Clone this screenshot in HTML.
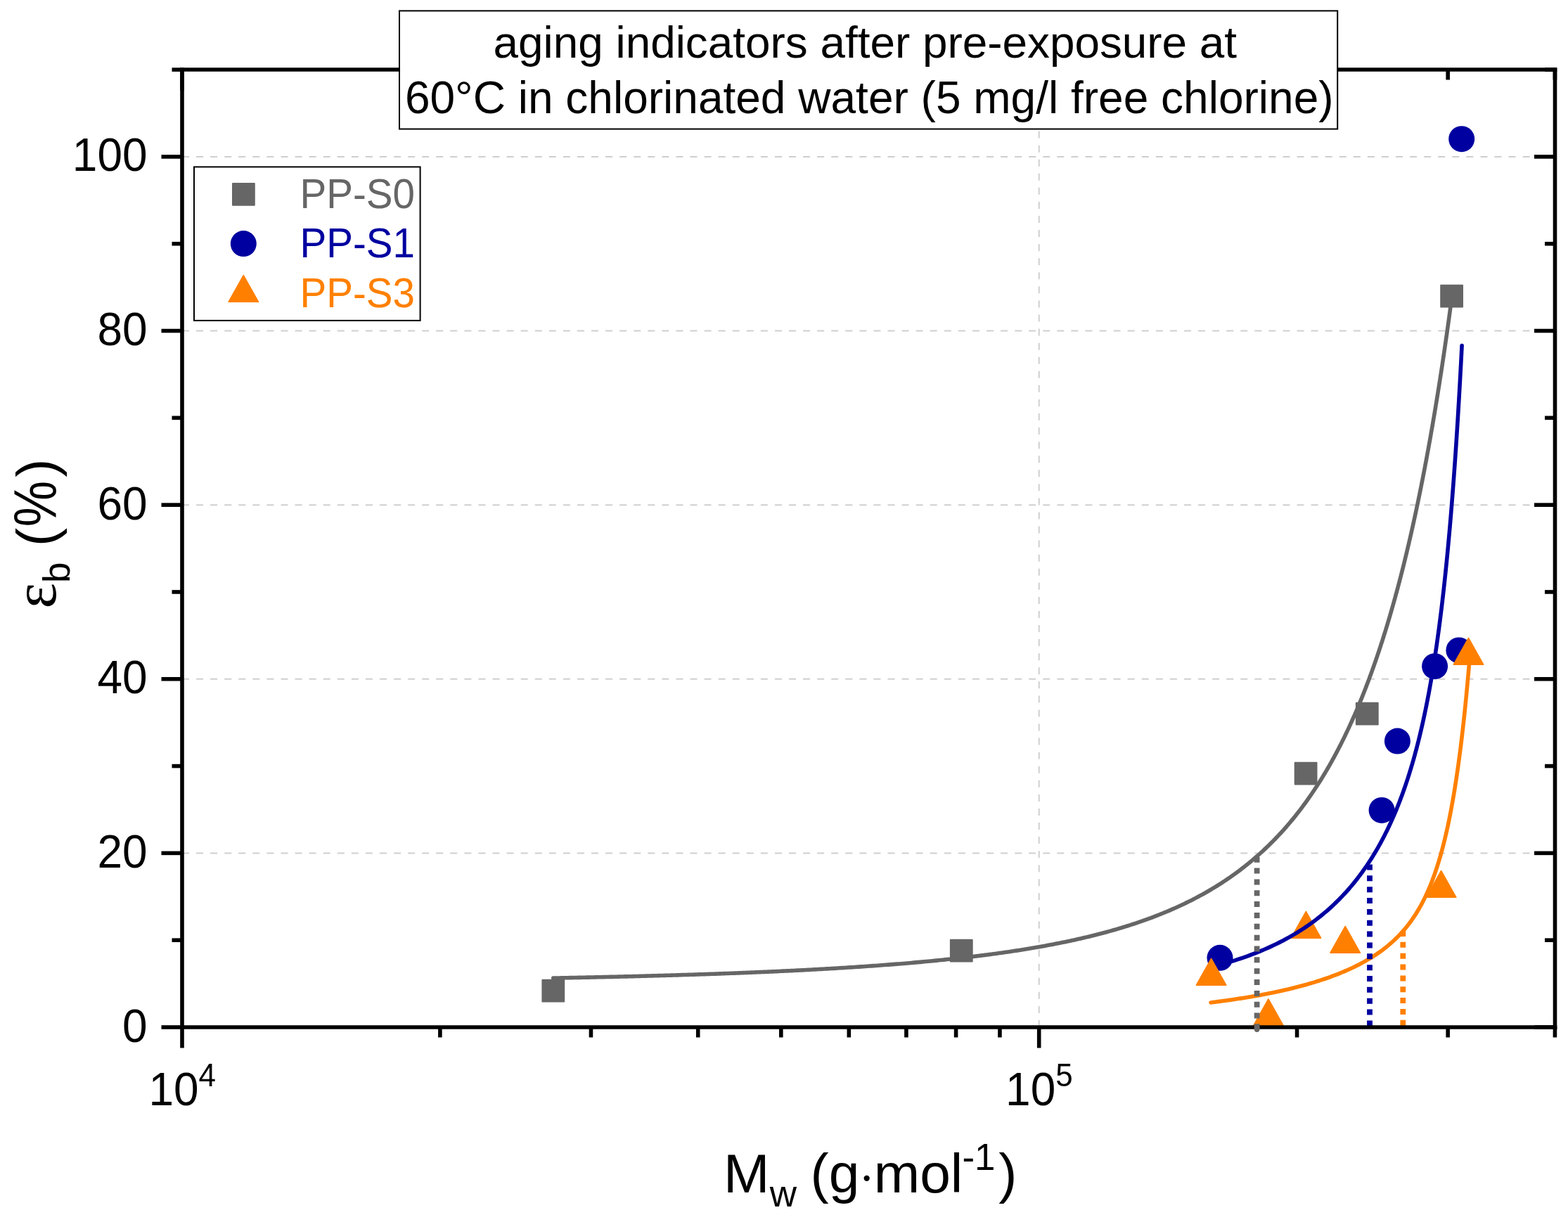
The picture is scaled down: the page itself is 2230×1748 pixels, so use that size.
<!DOCTYPE html>
<html lang="en"><head><meta charset="utf-8"><title>aging indicators after pre-exposure</title>
<style>html,body{margin:0;padding:0;background:#fff}svg{display:block}</style></head>
<body>
<svg width="2230" height="1748" viewBox="0 0 2230 1748" font-family="'Liberation Sans', sans-serif">
<rect width="2230" height="1748" fill="#fff"/>
<g stroke="#cfcfcf" stroke-width="2" stroke-dasharray="10 10.07" fill="none">
<line x1="259.0" y1="1213.38" x2="2211.5" y2="1213.38"/>
<line x1="259.0" y1="965.76" x2="2211.5" y2="965.76"/>
<line x1="259.0" y1="718.14" x2="2211.5" y2="718.14"/>
<line x1="259.0" y1="470.52" x2="2211.5" y2="470.52"/>
<line x1="259.0" y1="222.90" x2="2211.5" y2="222.90"/>
<line x1="1477.70" y1="1461.0" x2="1477.70" y2="99.0"/>
</g>
<g>
<rect x="770.40" y="1392.80" width="32.8" height="32.8" rx="1" fill="#666666"/>
<rect x="1350.90" y="1335.80" width="32.8" height="32.8" rx="1" fill="#666666"/>
<rect x="1840.70" y="1083.80" width="32.8" height="32.8" rx="1" fill="#666666"/>
<rect x="1927.90" y="998.80" width="32.8" height="32.8" rx="1" fill="#666666"/>
<rect x="2048.20" y="404.80" width="32.8" height="32.8" rx="1" fill="#666666"/>
<circle cx="1735.00" cy="1362.30" r="18.5" fill="#0000A0"/>
<circle cx="1965.10" cy="1152.40" r="18.5" fill="#0000A0"/>
<circle cx="1987.40" cy="1054.10" r="18.5" fill="#0000A0"/>
<circle cx="2040.60" cy="947.70" r="18.5" fill="#0000A0"/>
<circle cx="2074.90" cy="924.90" r="18.5" fill="#0000A0"/>
<circle cx="2078.70" cy="197.70" r="18.5" fill="#0000A0"/>
<path d="M1722.60 1363.40L1743.80 1401.10L1701.40 1401.10Z" fill="#FF8000" stroke="#FF8000" stroke-width="1.6" stroke-linejoin="round"/>
<path d="M1803.90 1420.90L1825.10 1458.60L1782.70 1458.60Z" fill="#FF8000" stroke="#FF8000" stroke-width="1.6" stroke-linejoin="round"/>
<path d="M1857.40 1296.40L1878.60 1334.10L1836.20 1334.10Z" fill="#FF8000" stroke="#FF8000" stroke-width="1.6" stroke-linejoin="round"/>
<path d="M1913.20 1317.50L1934.40 1355.20L1892.00 1355.20Z" fill="#FF8000" stroke="#FF8000" stroke-width="1.6" stroke-linejoin="round"/>
<path d="M2049.60 1238.50L2070.80 1276.20L2028.40 1276.20Z" fill="#FF8000" stroke="#FF8000" stroke-width="1.6" stroke-linejoin="round"/>
<path d="M2088.50 907.40L2109.70 945.10L2067.30 945.10Z" fill="#FF8000" stroke="#FF8000" stroke-width="1.6" stroke-linejoin="round"/>
</g>
<path d="M786.80 1391.11L789.80 1391.05L792.80 1390.99L795.80 1390.94L798.80 1390.88L801.80 1390.82L804.80 1390.76L807.80 1390.70L810.80 1390.64L813.79 1390.58L816.79 1390.52L819.79 1390.46L822.79 1390.40L825.79 1390.33L828.79 1390.27L831.79 1390.21L834.79 1390.14L837.79 1390.08L840.79 1390.01L843.79 1389.95L846.79 1389.88L849.79 1389.82L852.79 1389.75L855.79 1389.68L858.78 1389.61L861.78 1389.54L864.78 1389.48L867.78 1389.41L870.78 1389.34L873.78 1389.26L876.78 1389.19L879.78 1389.12L882.78 1389.05L885.78 1388.98L888.78 1388.90L891.78 1388.83L894.77 1388.75L897.77 1388.68L900.77 1388.60L903.77 1388.52L906.77 1388.45L909.77 1388.37L912.77 1388.29L915.77 1388.21L918.77 1388.13L921.76 1388.05L924.76 1387.97L927.76 1387.89L930.76 1387.80L933.76 1387.72L936.76 1387.64L939.76 1387.55L942.76 1387.47L945.76 1387.38L948.75 1387.29L951.75 1387.21L954.75 1387.12L957.75 1387.03L960.75 1386.94L963.75 1386.85L966.75 1386.76L969.75 1386.67L972.74 1386.57L975.74 1386.48L978.74 1386.39L981.74 1386.29L984.74 1386.19L987.74 1386.10L990.73 1386.00L993.73 1385.90L996.73 1385.80L999.73 1385.70L1002.73 1385.60L1005.73 1385.50L1008.72 1385.40L1011.72 1385.29L1014.72 1385.19L1017.72 1385.08L1020.72 1384.98L1023.72 1384.87L1026.71 1384.76L1029.71 1384.65L1032.71 1384.54L1035.71 1384.43L1038.70 1384.32L1041.70 1384.21L1044.70 1384.09L1047.70 1383.98L1050.70 1383.86L1053.69 1383.74L1056.69 1383.63L1059.69 1383.51L1062.69 1383.39L1065.68 1383.26L1068.68 1383.14L1071.68 1383.02L1074.68 1382.89L1077.67 1382.77L1080.67 1382.64L1083.67 1382.51L1086.67 1382.38L1089.66 1382.25L1092.66 1382.12L1095.66 1381.99L1098.65 1381.85L1101.65 1381.72L1104.65 1381.58L1107.64 1381.44L1110.64 1381.30L1113.64 1381.16L1116.63 1381.02L1119.63 1380.88L1122.63 1380.74L1125.62 1380.59L1128.62 1380.44L1131.62 1380.29L1134.61 1380.14L1137.61 1379.99L1140.61 1379.84L1143.60 1379.69L1146.60 1379.53L1149.59 1379.37L1152.59 1379.21L1155.59 1379.05L1158.58 1378.89L1161.58 1378.73L1164.57 1378.56L1167.57 1378.40L1170.56 1378.23L1173.56 1378.06L1176.55 1377.89L1179.55 1377.72L1182.54 1377.54L1185.54 1377.36L1188.53 1377.19L1191.53 1377.01L1194.52 1376.83L1197.52 1376.64L1200.51 1376.46L1203.50 1376.27L1206.50 1376.08L1209.49 1375.89L1212.49 1375.70L1215.48 1375.50L1218.47 1375.31L1221.47 1375.11L1224.46 1374.91L1227.45 1374.70L1230.45 1374.50L1233.44 1374.29L1236.43 1374.08L1239.42 1373.87L1242.42 1373.66L1245.41 1373.44L1248.40 1373.23L1251.39 1373.01L1254.38 1372.78L1257.38 1372.56L1260.37 1372.33L1263.36 1372.10L1266.35 1371.87L1269.34 1371.64L1272.33 1371.40L1275.32 1371.16L1278.31 1370.92L1281.30 1370.68L1284.29 1370.43L1287.28 1370.18L1290.27 1369.93L1293.26 1369.68L1296.25 1369.42L1299.24 1369.16L1302.23 1368.90L1305.21 1368.63L1308.20 1368.36L1311.19 1368.09L1314.18 1367.82L1317.17 1367.54L1320.15 1367.26L1323.14 1366.98L1326.12 1366.69L1329.11 1366.40L1332.10 1366.11L1335.08 1365.81L1338.07 1365.51L1341.05 1365.21L1344.04 1364.90L1347.02 1364.59L1350.00 1364.28L1352.99 1363.96L1355.97 1363.64L1358.95 1363.32L1361.93 1362.99L1364.92 1362.66L1367.90 1362.33L1370.88 1361.99L1373.86 1361.65L1376.84 1361.30L1379.82 1360.95L1382.80 1360.60L1385.78 1360.24L1388.75 1359.88L1391.73 1359.51L1394.71 1359.14L1397.68 1358.76L1400.66 1358.38L1403.64 1358.00L1406.61 1357.61L1409.58 1357.22L1412.56 1356.82L1415.53 1356.42L1418.50 1356.01L1421.47 1355.60L1424.45 1355.18L1427.42 1354.76L1430.39 1354.33L1433.35 1353.90L1436.32 1353.46L1439.29 1353.02L1442.26 1352.57L1445.22 1352.12L1448.19 1351.66L1451.15 1351.20L1454.11 1350.73L1457.07 1350.25L1460.04 1349.77L1463.00 1349.28L1465.96 1348.79L1468.91 1348.29L1471.87 1347.79L1474.83 1347.27L1477.78 1346.76L1480.74 1346.23L1483.69 1345.70L1486.64 1345.16L1489.59 1344.62L1492.54 1344.07L1495.49 1343.51L1498.43 1342.94L1501.38 1342.37L1504.32 1341.79L1507.26 1341.21L1510.20 1340.61L1513.14 1340.01L1516.08 1339.40L1519.02 1338.79L1521.95 1338.16L1524.88 1337.53L1527.81 1336.89L1530.74 1336.24L1533.67 1335.58L1536.60 1334.92L1539.52 1334.24L1542.44 1333.56L1545.36 1332.87L1548.28 1332.17L1551.19 1331.46L1554.10 1330.74L1557.01 1330.01L1559.92 1329.28L1562.83 1328.53L1565.73 1327.77L1568.63 1327.01L1571.53 1326.23L1574.42 1325.44L1577.32 1324.65L1580.21 1323.84L1583.09 1323.02L1585.98 1322.20L1588.86 1321.36L1591.73 1320.51L1594.61 1319.65L1597.48 1318.78L1600.35 1317.90L1603.21 1317.00L1606.07 1316.10L1608.93 1315.18L1611.78 1314.25L1614.63 1313.31L1617.47 1312.35L1620.31 1311.39L1623.15 1310.41L1625.98 1309.42L1628.81 1308.41L1631.63 1307.40L1634.45 1306.37L1637.26 1305.33L1640.07 1304.27L1642.87 1303.20L1645.67 1302.12L1648.46 1301.02L1651.25 1299.91L1654.03 1298.78L1656.80 1297.64L1659.57 1296.49L1662.34 1295.32L1665.09 1294.14L1667.84 1292.94L1670.59 1291.73L1673.33 1290.50L1676.06 1289.26L1678.78 1288.00L1681.50 1286.73L1684.21 1285.44L1686.91 1284.14L1689.60 1282.82L1692.29 1281.48L1694.97 1280.13L1697.64 1278.76L1700.30 1277.38L1702.95 1275.98L1705.60 1274.57L1708.23 1273.13L1710.86 1271.69L1713.48 1270.22L1716.09 1268.74L1718.69 1267.24L1721.28 1265.73L1723.86 1264.20L1726.43 1262.65L1728.99 1261.08L1731.53 1259.50L1734.07 1257.90L1736.60 1256.29L1739.12 1254.65L1741.62 1253.00L1744.12 1251.34L1746.60 1249.65L1749.07 1247.95L1751.53 1246.24L1753.98 1244.50L1756.42 1242.75L1758.84 1240.98L1761.25 1239.20L1763.65 1237.40L1766.04 1235.58L1768.41 1233.75L1770.77 1231.90L1773.12 1230.03L1775.45 1228.14L1777.78 1226.24L1780.08 1224.33L1782.38 1222.39L1784.66 1220.45L1786.93 1218.48L1789.18 1216.50L1791.42 1214.51L1793.65 1212.49L1795.86 1210.47L1798.06 1208.42L1800.24 1206.37L1802.41 1204.29L1804.56 1202.21L1806.70 1200.11L1808.83 1197.99L1810.94 1195.86L1813.04 1193.71L1815.12 1191.55L1817.19 1189.38L1819.24 1187.19L1821.28 1184.99L1823.30 1182.78L1825.31 1180.55L1827.31 1178.31L1829.29 1176.05L1831.25 1173.79L1833.20 1171.51L1835.14 1169.22L1837.06 1166.91L1838.97 1164.60L1840.86 1162.27L1842.74 1159.93L1844.60 1157.58L1846.45 1155.22L1848.29 1152.84L1850.11 1150.46L1851.91 1148.06L1853.71 1145.66L1855.48 1143.24L1857.25 1140.81L1859.00 1138.38L1860.73 1135.93L1862.46 1133.48L1864.16 1131.01L1865.86 1128.53L1867.54 1126.05L1869.21 1123.56L1870.86 1121.05L1872.50 1118.54L1874.13 1116.02L1875.75 1113.49L1877.35 1110.96L1878.94 1108.41L1880.51 1105.86L1882.08 1103.30L1883.63 1100.73L1885.16 1098.15L1886.69 1095.57L1888.20 1092.98L1889.70 1090.38L1891.19 1087.78L1892.67 1085.17L1894.13 1082.55L1895.58 1079.92L1897.03 1077.29L1898.46 1074.65L1899.87 1072.01L1901.28 1069.36L1902.68 1066.71L1904.06 1064.04L1905.43 1061.38L1906.79 1058.70L1908.15 1056.02L1909.49 1053.34L1910.82 1050.65L1912.14 1047.96L1913.44 1045.26L1914.74 1042.55L1916.03 1039.84L1917.31 1037.13L1918.58 1034.41L1919.84 1031.69L1921.08 1028.96L1922.32 1026.23L1923.55 1023.49L1924.77 1020.75L1925.98 1018.01L1927.18 1015.26L1928.37 1012.50L1929.56 1009.75L1930.73 1006.98L1931.89 1004.22L1933.05 1001.45L1934.20 998.68L1935.34 995.90L1936.47 993.12L1937.59 990.34L1938.70 987.56L1939.80 984.77L1940.90 981.97L1941.99 979.18L1943.07 976.38L1944.14 973.58L1945.21 970.77L1946.26 967.97L1947.31 965.16L1948.36 962.34L1949.39 959.53L1950.42 956.71L1951.44 953.89L1952.45 951.06L1953.45 948.24L1954.45 945.41L1955.44 942.57L1956.42 939.74L1957.40 936.90L1958.37 934.06L1959.34 931.22L1960.29 928.38L1961.24 925.53L1962.19 922.69L1963.12 919.84L1964.05 916.99L1964.98 914.13L1965.90 911.28L1966.81 908.42L1967.71 905.56L1968.61 902.70L1969.51 899.83L1970.40 896.97L1971.28 894.10L1972.15 891.23L1973.02 888.36L1973.89 885.49L1974.75 882.61L1975.60 879.74L1976.45 876.86L1977.29 873.98L1978.13 871.10L1978.96 868.22L1979.79 865.33L1980.61 862.45L1981.43 859.56L1982.24 856.67L1983.04 853.78L1983.84 850.89L1984.64 848.00L1985.43 845.10L1986.22 842.21L1987.00 839.31L1987.78 836.41L1988.55 833.52L1989.31 830.62L1990.08 827.71L1990.84 824.81L1991.59 821.91L1992.34 819.00L1993.08 816.10L1993.82 813.19L1994.56 810.28L1995.29 807.37L1996.02 804.46L1996.74 801.55L1997.46 798.64L1998.17 795.72L1998.88 792.81L1999.59 789.89L2000.29 786.98L2000.99 784.06L2001.68 781.14L2002.37 778.22L2003.06 775.30L2003.74 772.38L2004.42 769.46L2005.10 766.53L2005.77 763.61L2006.44 760.68L2007.10 757.76L2007.76 754.83L2008.42 751.91L2009.07 748.98L2009.72 746.05L2010.37 743.12L2011.01 740.19L2011.65 737.26L2012.28 734.33L2012.92 731.39L2013.54 728.46L2014.17 725.53L2014.79 722.59L2015.41 719.66L2016.03 716.72L2016.64 713.78L2017.25 710.85L2017.86 707.91L2018.46 704.97L2019.06 702.03L2019.66 699.09L2020.25 696.15L2020.84 693.21L2021.43 690.27L2022.01 687.32L2022.60 684.38L2023.18 681.44L2023.75 678.49L2024.33 675.55L2024.90 672.60L2025.46 669.66L2026.03 666.71L2026.59 663.76L2027.15 660.82L2027.71 657.87L2028.26 654.92L2028.81 651.97L2029.36 649.02L2029.91 646.07L2030.45 643.12L2030.99 640.17L2031.53 637.22L2032.06 634.27L2032.60 631.31L2033.13 628.36L2033.66 625.41L2034.18 622.46L2034.71 619.50L2035.23 616.55L2035.75 613.59L2036.26 610.64L2036.78 607.68L2037.29 604.72L2037.80 601.77L2038.30 598.81L2038.81 595.85L2039.31 592.90L2039.81 589.94L2040.31 586.98L2040.80 584.02L2041.29 581.06L2041.79 578.10L2042.27 575.14L2042.76 572.18L2043.25 569.22L2043.73 566.26L2044.21 563.30L2044.69 560.34L2045.16 557.38L2045.64 554.41L2046.11 551.45L2046.58 548.49L2047.05 545.52L2047.51 542.56L2047.98 539.60L2048.44 536.63L2048.90 533.67L2049.36 530.70L2049.81 527.74L2050.27 524.77L2050.72 521.81L2051.17 518.84L2051.62 515.88L2052.07 512.91L2052.51 509.94L2052.95 506.97L2053.40 504.01L2053.83 501.04L2054.27 498.07L2054.71 495.10L2055.14 492.14L2055.57 489.17L2056.01 486.20L2056.43 483.23L2056.86 480.26L2057.29 477.29L2057.71 474.32L2058.13 471.35L2058.55 468.38L2058.97 465.41L2059.39 462.44L2059.80 459.47L2060.22 456.49L2060.63 453.52L2061.04 450.55L2061.45 447.58L2061.86 444.61L2062.26 441.64L2062.67 438.66L2063.07 435.69L2063.47 432.72L2063.87 429.74L2064.27 426.77L2064.37 426.02" fill="none" stroke="#666666" stroke-width="5.6" stroke-linecap="round" stroke-linejoin="round"/>
<path d="M1735.00 1372.28L1737.89 1371.47L1740.77 1370.65L1743.65 1369.81L1746.53 1368.95L1749.40 1368.09L1752.27 1367.20L1755.13 1366.30L1757.99 1365.39L1760.84 1364.45L1763.69 1363.51L1766.53 1362.54L1769.36 1361.56L1772.19 1360.56L1775.01 1359.54L1777.83 1358.50L1780.63 1357.45L1783.44 1356.37L1786.23 1355.28L1789.02 1354.17L1791.80 1353.04L1794.57 1351.89L1797.33 1350.72L1800.08 1349.53L1802.83 1348.32L1805.56 1347.09L1808.29 1345.84L1811.01 1344.57L1813.72 1343.28L1816.41 1341.96L1819.10 1340.63L1821.77 1339.27L1824.44 1337.89L1827.09 1336.49L1829.73 1335.07L1832.36 1333.62L1834.98 1332.15L1837.58 1330.66L1840.17 1329.15L1842.75 1327.61L1845.31 1326.05L1847.86 1324.47L1850.39 1322.86L1852.91 1321.23L1855.41 1319.58L1857.90 1317.91L1860.38 1316.21L1862.83 1314.49L1865.27 1312.74L1867.70 1310.97L1870.11 1309.18L1872.50 1307.37L1874.87 1305.54L1877.22 1303.68L1879.56 1301.80L1881.88 1299.89L1884.18 1297.97L1886.46 1296.02L1888.72 1294.05L1890.97 1292.06L1893.19 1290.05L1895.40 1288.01L1897.58 1285.96L1899.75 1283.88L1901.89 1281.78L1904.02 1279.67L1906.12 1277.53L1908.21 1275.37L1910.27 1273.19L1912.32 1271.00L1914.34 1268.78L1916.34 1266.55L1918.32 1264.30L1920.29 1262.03L1922.23 1259.74L1924.14 1257.43L1926.04 1255.11L1927.92 1252.77L1929.78 1250.41L1931.61 1248.04L1933.43 1245.65L1935.22 1243.25L1937.00 1240.83L1938.75 1238.40L1940.48 1235.95L1942.20 1233.48L1943.89 1231.01L1945.56 1228.52L1947.21 1226.01L1948.84 1223.49L1950.46 1220.96L1952.05 1218.42L1953.62 1215.87L1955.17 1213.30L1956.71 1210.72L1958.22 1208.13L1959.72 1205.53L1961.19 1202.92L1962.65 1200.30L1964.09 1197.66L1965.51 1195.02L1966.91 1192.37L1968.29 1189.71L1969.66 1187.04L1971.01 1184.36L1972.34 1181.67L1973.65 1178.97L1974.95 1176.26L1976.23 1173.55L1977.49 1170.83L1978.74 1168.10L1979.97 1165.36L1981.18 1162.62L1982.38 1159.87L1983.56 1157.11L1984.72 1154.35L1985.87 1151.58L1987.01 1148.80L1988.13 1146.02L1989.23 1143.23L1990.32 1140.43L1991.40 1137.63L1992.46 1134.82L1993.51 1132.01L1994.54 1129.20L1995.56 1126.38L1996.56 1123.55L1997.56 1120.72L1998.54 1117.88L1999.50 1115.04L2000.46 1112.20L2001.40 1109.35L2002.33 1106.50L2003.24 1103.64L2004.15 1100.78L2005.04 1097.92L2005.92 1095.05L2006.79 1092.18L2007.65 1089.30L2008.49 1086.42L2009.33 1083.54L2010.16 1080.66L2010.97 1077.77L2011.77 1074.88L2012.57 1071.99L2013.35 1069.09L2014.12 1066.19L2014.89 1063.29L2015.64 1060.39L2016.38 1057.48L2017.12 1054.57L2017.85 1051.66L2018.56 1048.75L2019.27 1045.83L2019.97 1042.92L2020.66 1040.00L2021.34 1037.08L2022.01 1034.15L2022.68 1031.23L2023.33 1028.30L2023.98 1025.37L2024.62 1022.44L2025.26 1019.51L2025.88 1016.57L2026.50 1013.64L2027.11 1010.70L2027.71 1007.76L2028.31 1004.82L2028.90 1001.88L2029.48 998.94L2030.06 995.99L2030.63 993.05L2031.19 990.10L2031.75 987.15L2032.29 984.20L2032.84 981.25L2033.38 978.30L2033.91 975.35L2034.43 972.39L2034.95 969.44L2035.46 966.48L2035.97 963.53L2036.47 960.57L2036.97 957.61L2037.46 954.65L2037.95 951.69L2038.43 948.73L2038.91 945.77L2039.38 942.81L2039.84 939.84L2040.30 936.88L2040.76 933.91L2041.21 930.95L2041.66 927.98L2042.10 925.01L2042.53 922.04L2042.97 919.08L2043.40 916.11L2043.82 913.14L2044.24 910.17L2044.66 907.20L2045.07 904.22L2045.47 901.25L2045.88 898.28L2046.28 895.31L2046.67 892.33L2047.06 889.36L2047.45 886.38L2047.84 883.41L2048.22 880.43L2048.59 877.45L2048.97 874.48L2049.34 871.50L2049.70 868.52L2050.07 865.55L2050.43 862.57L2050.78 859.59L2051.13 856.61L2051.48 853.63L2051.83 850.65L2052.18 847.67L2052.52 844.69L2052.85 841.71L2053.19 838.73L2053.52 835.75L2053.85 832.76L2054.17 829.78L2054.50 826.80L2054.82 823.82L2055.13 820.83L2055.45 817.85L2055.76 814.87L2056.07 811.88L2056.38 808.90L2056.68 805.91L2056.98 802.93L2057.28 799.94L2057.58 796.96L2057.87 793.97L2058.17 790.99L2058.46 788.00L2058.74 785.01L2059.03 782.03L2059.31 779.04L2059.59 776.05L2059.87 773.07L2060.15 770.08L2060.42 767.09L2060.69 764.10L2060.96 761.12L2061.23 758.13L2061.49 755.14L2061.76 752.15L2062.02 749.16L2062.28 746.17L2062.54 743.19L2062.79 740.20L2063.05 737.21L2063.30 734.22L2063.55 731.23L2063.80 728.24L2064.04 725.25L2064.29 722.26L2064.53 719.27L2064.77 716.28L2065.01 713.29L2065.25 710.30L2065.49 707.31L2065.72 704.32L2065.95 701.32L2066.18 698.33L2066.41 695.34L2066.64 692.35L2066.87 689.36L2067.09 686.37L2067.32 683.38L2067.54 680.38L2067.76 677.39L2067.98 674.40L2068.19 671.41L2068.41 668.42L2068.63 665.42L2068.84 662.43L2069.05 659.44L2069.26 656.45L2069.47 653.45L2069.68 650.46L2069.88 647.47L2070.09 644.48L2070.29 641.48L2070.50 638.49L2070.70 635.50L2070.90 632.50L2071.10 629.51L2071.29 626.52L2071.49 623.52L2071.68 620.53L2071.88 617.53L2072.07 614.54L2072.26 611.55L2072.45 608.55L2072.64 605.56L2072.83 602.57L2073.02 599.57L2073.20 596.58L2073.39 593.58L2073.57 590.59L2073.75 587.59L2073.93 584.60L2074.11 581.60L2074.29 578.61L2074.47 575.62L2074.65 572.62L2074.83 569.63L2075.00 566.63L2075.18 563.64L2075.35 560.64L2075.52 557.65L2075.69 554.65L2075.86 551.66L2076.03 548.66L2076.20 545.66L2076.37 542.67L2076.54 539.67L2076.70 536.68L2076.87 533.68L2077.03 530.69L2077.19 527.69L2077.36 524.70L2077.52 521.70L2077.68 518.71L2077.84 515.71L2078.00 512.71L2078.15 509.72L2078.31 506.72L2078.47 503.73L2078.62 500.73L2078.78 497.73L2078.93 494.74L2079.09 491.74L2079.10 491.51" fill="none" stroke="#0000A0" stroke-width="5.6" stroke-linecap="round" stroke-linejoin="round"/>
<path d="M1722.00 1425.91L1724.98 1425.54L1727.95 1425.16L1730.93 1424.78L1733.90 1424.39L1736.88 1424.00L1739.85 1423.60L1742.82 1423.19L1745.79 1422.78L1748.76 1422.36L1751.73 1421.93L1754.70 1421.49L1757.67 1421.05L1760.64 1420.60L1763.60 1420.14L1766.56 1419.68L1769.53 1419.21L1772.49 1418.73L1775.45 1418.24L1778.41 1417.74L1781.36 1417.24L1784.32 1416.72L1787.27 1416.20L1790.23 1415.67L1793.18 1415.13L1796.13 1414.57L1799.07 1414.01L1802.02 1413.44L1804.96 1412.86L1807.90 1412.27L1810.84 1411.67L1813.78 1411.06L1816.71 1410.44L1819.65 1409.81L1822.58 1409.16L1825.50 1408.50L1828.43 1407.84L1831.35 1407.16L1834.27 1406.46L1837.18 1405.76L1840.10 1405.04L1843.01 1404.31L1845.91 1403.56L1848.82 1402.80L1851.71 1402.03L1854.61 1401.24L1857.50 1400.44L1860.39 1399.62L1863.27 1398.79L1866.14 1397.94L1869.02 1397.07L1871.88 1396.19L1874.75 1395.29L1877.60 1394.38L1880.45 1393.44L1883.30 1392.49L1886.14 1391.52L1888.97 1390.53L1891.79 1389.52L1894.61 1388.49L1897.42 1387.44L1900.23 1386.37L1903.02 1385.28L1905.80 1384.16L1908.58 1383.02L1911.35 1381.86L1914.10 1380.68L1916.85 1379.47L1919.58 1378.24L1922.31 1376.98L1925.02 1375.70L1927.72 1374.39L1930.40 1373.05L1933.07 1371.68L1935.73 1370.29L1938.37 1368.87L1941.00 1367.42L1943.61 1365.93L1946.20 1364.42L1948.77 1362.88L1951.32 1361.30L1953.85 1359.69L1956.36 1358.05L1958.85 1356.37L1961.32 1354.66L1963.76 1352.92L1966.18 1351.14L1968.57 1349.33L1970.93 1347.48L1973.26 1345.60L1975.57 1343.68L1977.85 1341.73L1980.09 1339.74L1982.31 1337.71L1984.49 1335.65L1986.64 1333.56L1988.75 1331.43L1990.83 1329.27L1992.87 1327.07L1994.88 1324.84L1996.85 1322.58L1998.79 1320.29L2000.69 1317.97L2002.55 1315.62L2004.37 1313.23L2006.16 1310.82L2007.91 1308.39L2009.62 1305.92L2011.30 1303.44L2012.94 1300.92L2014.54 1298.39L2016.11 1295.83L2017.64 1293.25L2019.14 1290.65L2020.60 1288.03L2022.03 1285.40L2023.43 1282.74L2024.80 1280.07L2026.13 1277.38L2027.44 1274.68L2028.71 1271.97L2029.95 1269.24L2031.17 1266.49L2032.36 1263.74L2033.52 1260.97L2034.66 1258.20L2035.77 1255.41L2036.85 1252.61L2037.91 1249.81L2038.95 1246.99L2039.97 1244.17L2040.96 1241.34L2041.93 1238.50L2042.89 1235.66L2043.82 1232.81L2044.73 1229.95L2045.62 1227.08L2046.50 1224.21L2047.36 1221.34L2048.20 1218.46L2049.02 1215.57L2049.83 1212.69L2050.62 1209.79L2051.40 1206.89L2052.16 1203.99L2052.91 1201.09L2053.64 1198.18L2054.36 1195.27L2055.07 1192.35L2055.76 1189.43L2056.45 1186.51L2057.12 1183.59L2057.78 1180.66L2058.42 1177.73L2059.06 1174.80L2059.69 1171.87L2060.30 1168.93L2060.91 1165.99L2061.50 1163.05L2062.09 1160.11L2062.66 1157.16L2063.23 1154.22L2063.79 1151.27L2064.34 1148.32L2064.88 1145.37L2065.42 1142.42L2065.94 1139.47L2066.46 1136.51L2066.97 1133.55L2067.47 1130.60L2067.97 1127.64L2068.46 1124.68L2068.94 1121.72L2069.41 1118.75L2069.88 1115.79L2070.35 1112.83L2070.80 1109.86L2071.25 1106.90L2071.70 1103.93L2072.14 1100.96L2072.57 1097.99L2073.00 1095.02L2073.42 1092.05L2073.84 1089.08L2074.25 1086.11L2074.65 1083.14L2075.05 1080.17L2075.45 1077.19L2075.84 1074.22L2076.23 1071.24L2076.61 1068.27L2076.99 1065.29L2077.37 1062.31L2077.74 1059.34L2078.10 1056.36L2078.46 1053.38L2078.82 1050.40L2079.18 1047.42L2079.53 1044.44L2079.87 1041.46L2080.21 1038.48L2080.55 1035.50L2080.89 1032.52L2081.22 1029.54L2081.55 1026.56L2081.87 1023.58L2082.19 1020.59L2082.51 1017.61L2082.83 1014.63L2083.14 1011.64L2083.45 1008.66L2083.75 1005.68L2084.06 1002.69L2084.36 999.71L2084.66 996.72L2084.95 993.73L2085.24 990.75L2085.53 987.76L2085.82 984.78L2086.10 981.79L2086.38 978.80L2086.66 975.82L2086.94 972.83L2087.21 969.84L2087.48 966.85L2087.75 963.87L2088.02 960.88L2088.28 957.89L2088.54 954.90L2088.80 951.91L2089.06 948.92L2089.32 945.93L2089.42 944.68" fill="none" stroke="#FF8000" stroke-width="5.6" stroke-linecap="round" stroke-linejoin="round"/>
<line x1="1787.6" y1="1218.7" x2="1787.6" y2="1466" stroke="#666666" stroke-width="7.8" stroke-dasharray="8 7.85" stroke-dashoffset="0"/>
<line x1="1948" y1="1229.5" x2="1948" y2="1461" stroke="#0000A0" stroke-width="7.8" stroke-dasharray="8 7.85" stroke-dashoffset="0"/>
<line x1="1995.3" y1="1324" x2="1995.3" y2="1461" stroke="#FF8000" stroke-width="7.8" stroke-dasharray="8 7.85" stroke-dashoffset="0"/>
<g stroke="#000" stroke-width="5.6" fill="none" stroke-linecap="butt">
<line x1="256.2" y1="99.0" x2="2214.3" y2="99.0"/>
<line x1="256.2" y1="1461.0" x2="2214.3" y2="1461.0"/>
<line x1="259.0" y1="96.2" x2="259.0" y2="1463.8"/>
<line x1="2211.5" y1="96.2" x2="2211.5" y2="1463.8"/>
<line x1="229.50" y1="1461.00" x2="259.0" y2="1461.00"/>
<line x1="2182.00" y1="1461.00" x2="2211.5" y2="1461.00"/>
<line x1="244.50" y1="1337.19" x2="259.0" y2="1337.19"/>
<line x1="2197.00" y1="1337.19" x2="2211.5" y2="1337.19"/>
<line x1="229.50" y1="1213.38" x2="259.0" y2="1213.38"/>
<line x1="2182.00" y1="1213.38" x2="2211.5" y2="1213.38"/>
<line x1="244.50" y1="1089.57" x2="259.0" y2="1089.57"/>
<line x1="2197.00" y1="1089.57" x2="2211.5" y2="1089.57"/>
<line x1="229.50" y1="965.76" x2="259.0" y2="965.76"/>
<line x1="2182.00" y1="965.76" x2="2211.5" y2="965.76"/>
<line x1="244.50" y1="841.95" x2="259.0" y2="841.95"/>
<line x1="2197.00" y1="841.95" x2="2211.5" y2="841.95"/>
<line x1="229.50" y1="718.14" x2="259.0" y2="718.14"/>
<line x1="2182.00" y1="718.14" x2="2211.5" y2="718.14"/>
<line x1="244.50" y1="594.33" x2="259.0" y2="594.33"/>
<line x1="2197.00" y1="594.33" x2="2211.5" y2="594.33"/>
<line x1="229.50" y1="470.52" x2="259.0" y2="470.52"/>
<line x1="2182.00" y1="470.52" x2="2211.5" y2="470.52"/>
<line x1="244.50" y1="346.71" x2="259.0" y2="346.71"/>
<line x1="2197.00" y1="346.71" x2="2211.5" y2="346.71"/>
<line x1="229.50" y1="222.90" x2="259.0" y2="222.90"/>
<line x1="2182.00" y1="222.90" x2="2211.5" y2="222.90"/>
<line x1="244.50" y1="99.09" x2="259.0" y2="99.09"/>
<line x1="2197.00" y1="99.09" x2="2211.5" y2="99.09"/>
<line x1="259.00" y1="1461.0" x2="259.00" y2="1490.50"/>
<line x1="259.00" y1="99.0" x2="259.00" y2="128.50"/>
<line x1="1477.70" y1="1461.0" x2="1477.70" y2="1490.50"/>
<line x1="1477.70" y1="99.0" x2="1477.70" y2="128.50"/>
<line x1="625.87" y1="1461.0" x2="625.87" y2="1475.50"/>
<line x1="625.87" y1="99.0" x2="625.87" y2="113.50"/>
<line x1="840.47" y1="1461.0" x2="840.47" y2="1475.50"/>
<line x1="840.47" y1="99.0" x2="840.47" y2="113.50"/>
<line x1="992.73" y1="1461.0" x2="992.73" y2="1475.50"/>
<line x1="992.73" y1="99.0" x2="992.73" y2="113.50"/>
<line x1="1110.83" y1="1461.0" x2="1110.83" y2="1475.50"/>
<line x1="1110.83" y1="99.0" x2="1110.83" y2="113.50"/>
<line x1="1207.33" y1="1461.0" x2="1207.33" y2="1475.50"/>
<line x1="1207.33" y1="99.0" x2="1207.33" y2="113.50"/>
<line x1="1288.92" y1="1461.0" x2="1288.92" y2="1475.50"/>
<line x1="1288.92" y1="99.0" x2="1288.92" y2="113.50"/>
<line x1="1359.60" y1="1461.0" x2="1359.60" y2="1475.50"/>
<line x1="1359.60" y1="99.0" x2="1359.60" y2="113.50"/>
<line x1="1421.94" y1="1461.0" x2="1421.94" y2="1475.50"/>
<line x1="1421.94" y1="99.0" x2="1421.94" y2="113.50"/>
<line x1="1844.57" y1="1461.0" x2="1844.57" y2="1475.50"/>
<line x1="1844.57" y1="99.0" x2="1844.57" y2="113.50"/>
<line x1="2059.17" y1="1461.0" x2="2059.17" y2="1475.50"/>
<line x1="2059.17" y1="99.0" x2="2059.17" y2="113.50"/>
<line x1="2211.43" y1="1461.0" x2="2211.43" y2="1475.50"/>
<line x1="2211.43" y1="99.0" x2="2211.43" y2="113.50"/>
</g>
<line x1="1787.6" y1="1456.5" x2="1787.6" y2="1464.2" stroke="#666666" stroke-width="7.8"/>
<line x1="1787.6" y1="1462" x2="1787.6" y2="1464.2" stroke="#666666" stroke-width="7.4" stroke-linecap="round"/>
<g font-size="64" fill="#000">
<text transform="translate(209.60 1481.50) scale(1 1.035)" text-anchor="end">0</text>
<text transform="translate(209.60 1233.88) scale(1 1.035)" text-anchor="end">20</text>
<text transform="translate(209.60 986.26) scale(1 1.035)" text-anchor="end">40</text>
<text transform="translate(209.60 738.64) scale(1 1.035)" text-anchor="end">60</text>
<text transform="translate(209.60 491.02) scale(1 1.035)" text-anchor="end">80</text>
<text transform="translate(209.60 243.40) scale(1 1.035)" text-anchor="end">100</text>
<text transform="translate(259.20 1571.70) scale(1 1.035)" text-anchor="middle">10<tspan font-size="44" dy="-25.80">4</tspan></text>
<text transform="translate(1477.90 1571.70) scale(1 1.035)" text-anchor="middle">10<tspan font-size="44" dy="-25.80">5</tspan></text>
</g>
<text font-size="78.5" fill="#000" y="1696.3" xml:space="preserve"><tspan x="1029.0">M</tspan><tspan x="1094.7" y="1716.3" font-size="53">w</tspan><tspan x="1130.79" y="1696.3"> (g</tspan><tspan x="1232.6" y="1699.1" font-size="70" font-family="'Liberation Serif', serif" text-anchor="middle">·</tspan><tspan x="1242.8" y="1696.3">mol</tspan><tspan x="1368.4" y="1663.8999999999999" font-size="53">-1</tspan><tspan x="1420.3" y="1696.3">)</tspan></text>
<text transform="translate(79.9 0) rotate(-90)" font-size="78.5" fill="#000" xml:space="preserve"><tspan x="-865.5" y="-0.8" font-family="'Liberation Serif', serif" font-size="87">ε</tspan><tspan x="-829.0" y="19.5" font-size="53">b</tspan><tspan x="-798.71" y="-1.3"> (</tspan><tspan x="-749.2" y="-0.3" font-size="84.5" textLength="65.3" lengthAdjust="spacingAndGlyphs">%</tspan><tspan x="-678.7" y="-1.3">)</tspan></text>
<rect x="568" y="15.4" width="1334.20" height="168.10" fill="#fff" stroke="#000" stroke-width="2"/>
<g font-size="63.85" text-anchor="middle" fill="#000">
<text x="1230.3" y="81.8">aging indicators after pre-exposure at</text>
<text x="1236.25" y="161.3" font-size="64.03">60°C in chlorinated water (5 mg/l free chlorine)</text>
</g>
<rect x="276.0" y="237.4" width="321.60" height="218.50" fill="#fff" stroke="#000" stroke-width="2"/>
<rect x="330.00" y="260.00" width="32.8" height="32.8" rx="1" fill="#666666"/>
<circle cx="346.30" cy="346.60" r="18.5" fill="#0000A0"/>
<path d="M346.30 391.60L367.50 429.30L325.10 429.30Z" fill="#FF8000" stroke="#FF8000" stroke-width="1.6" stroke-linejoin="round"/>
<g font-size="56.6">
<text transform="translate(426.50 295.50) scale(1 1.035)" fill="#666666">PP-S0</text>
<text transform="translate(426.50 365.80) scale(1 1.035)" fill="#0000A0">PP-S1</text>
<text transform="translate(426.50 436.80) scale(1 1.035)" fill="#FF8000">PP-S3</text>
</g>
</svg>
</body></html>
